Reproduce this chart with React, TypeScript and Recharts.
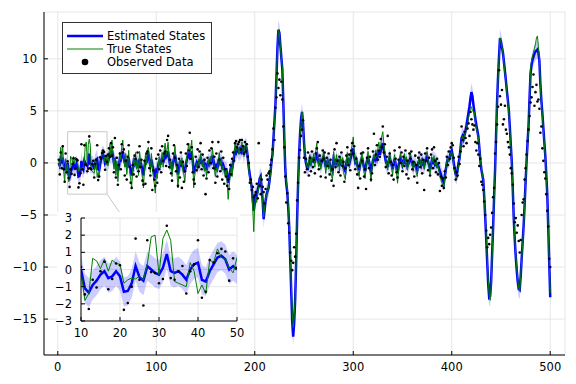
import React from 'react';
import {
  ComposedChart,
  Line,
  Area,
  Scatter,
  XAxis,
  YAxis,
  CartesianGrid,
  ReferenceArea,
  ReferenceLine,
} from 'recharts';

// x = 1..500
const trueStates: number[] = [
  0.2, -0.6, 1.5, 0.3, 1.7, -0.8, -1.9, 0.4, -1.0, -0.15,
  -1.8, -1.4, 0.65, 0.5, 0.05, 0.6, -0.1, 0.55, 0.35, 0.3,
  -0.8, -0.6, -0.5, -0.55, -0.4, -0.6, 0.3, 1.9, 2.0, -0.3,
  1.8, 2.3, 1.7, -0.7, -0.8, -0.9, -1.0, 0.4, -0.1, -1.4,
  -0.9, -1.4, 0.55, 0.4, 1.2, 0.7, 0.6, 0.1, -0.2, 0.7,
  -0.3, 0.9, 1.8, 0.5, 2.2, 0.8, -0.6, 0.4, -1.2, 0.2,
  -1.8, -0.5, 1.0, 0.3, 1.6, 2.2, 0.6, -0.4, 0.9, -1.1,
  -0.2, 1.2, -0.9, -1.6, -2.4, -0.8, 0.5, -0.3, 1.0, -0.6,
  0.3, -1.2, 1.1, 0.2, -0.7, -1.5, -2.4, -0.5, 0.8, -0.2,
  1.3, 1.5, 0.4, -0.9, 0.9, -0.4, -1.3, -2.0, -2.9, -1.0,
  -1.5, -0.2, 0.6, -0.5, 0.3, 1.0, -0.4, 1.2, 1.9, 0.8,
  1.3, 2.0, 0.5, -0.6, 0.2, -1.3, 0.1, 0.8, 1.6, 0.3,
  -0.9, -2.4, -1.0, 0.3, -0.2, 0.5, -0.8, -1.1, -1.8, -0.4,
  0.7, 1.2, 1.9, 0.9, 1.4, 2.2, 0.3, -2.4, -1.2, -0.5,
  0.0, -0.6, 0.4, -0.3, 0.9, 0.4, -0.35, 0.2, -0.8, -0.2,
  -1.3, -0.4, 0.3, -0.3, 0.6, 0.1, 1.4, 0.5, -0.6, -1.3,
  -0.5, -0.9, 0.3, 1.0, -0.2, 0.4, -0.7, -0.3, -0.9, -1.3,
  -0.6, -2.0, -3.5, -2.2, -1.3, -0.4, -1.3, 0.2, 0.9, 1.9,
  1.2, 1.7, 1.4, 0.8, 1.5, 1.1, 2.0, 1.3, 0.6, 1.6,
  1.9, 1.5, 0.4, -0.7, -1.5, -2.0, -2.6, -4.5, -6.6, -4.0,
  -3.2, -3.8, -2.9, -2.4, -1.6, -1.3, -2.5, -3.8, -5.2, -4.2,
  -3.5, -3.0, -2.8, -2.4, -1.8, -1.0, 0.0, 0.6, 2.2, 3.8,
  5.4, 8.0, 10.8, 12.8, 12.4, 11.2, 10.0, 9.2, 6.0, 2.5,
  -0.4, -1.8, -2.5, -4.0, -5.8, -8.7, -11.5, -14.2, -15.8, -14.8,
  -13.0, -9.5, -5.5, -2.3, 0.5, 2.5, 3.8, 4.9, 3.8, 2.0,
  0.8, 0.2, -0.3, -0.5, 0.3, 0.8, -0.3, 0.6, 0.2, 0.9,
  -0.4, 1.2, 1.9, 0.5, -0.35, 0.4, -0.6, 0.3, 0.7, 1.1,
  0.2, -1.0, -0.3, 0.5, -0.6, 0.2, -0.9, -1.3, -1.6, 1.1,
  0.4, -0.5, 0.8, -0.3, 0.3, -0.8, 0.6, -0.2, 0.5, -0.9,
  -1.2, -1.6, 0.2, 1.0, 0.3, -0.4, 0.6, 1.3, 1.8, 2.5,
  0.9, 0.0, 0.6, -0.5, -0.8, -1.3, -0.2, 0.5, 0.9, -0.3,
  -0.9, -1.5, -0.4, 0.4, 1.1, 0.1, -0.7, -1.8, -0.6, 0.3,
  0.8, 0.4, 1.25, 0.6, 1.4, 2.0, 1.2, 1.8, 2.6, 3.0,
  1.9, 1.0, 0.3, -0.2, -0.7, 0.4, 1.0, 0.2, -0.5, -1.15,
  0.1, 0.8, -0.3, -1.0, -1.95, -0.6, 0.4, 0.9, 0.3, -0.4,
  0.2, 0.9, -0.2, 0.6, -0.7, -0.2, 0.4, 1.0, 0.3, -0.3,
  -0.8, 0.2, -0.4, -0.9, -1.3, 0.0, 0.6, 0.2, -0.5, 0.4,
  -0.2, -0.6, 0.3, 0.8, 1.1, 0.2, -0.4, -1.1, -0.3, 0.5,
  0.1, 0.7, -0.2, 0.3, -0.5, -0.2, -0.8, -1.2, -1.6, -1.9,
  -2.1, -2.3, -1.4, -0.6, 0.1, 0.5, 0.2, 0.6, 0.9, 1.1,
  0.6, -0.2, -0.8, -1.3, -1.6, -0.9, -0.2, 0.3, 1.4, 2.3,
  2.6, 2.1, 2.6, 3.0, 3.3, 3.8, 4.3, 4.8, 5.3, 5.4,
  5.0, 4.9, 4.9, 4.0, 3.3, 2.9, 2.5, 1.5, 0.4, -0.5,
  -1.0, -1.5, -3.2, -5.0, -7.1, -9.2, -11.2, -12.6, -13.2, -11.8,
  -9.0, -6.4, -3.5, -0.9, 2.5, 5.7, 8.0, 10.0, 12.0, 11.6,
  11.2, 10.6, 9.6, 8.6, 7.8, 6.8, 5.8, 4.8, 3.2, 1.6,
  0.0, -2.5, -5.2, -7.2, -8.8, -10.0, -11.2, -12.0, -12.3, -10.9,
  -9.3, -7.8, -6.2, -4.2, -2.0, 0.0, 1.8, 3.4, 6.2, 9.0,
  9.8, 10.3, 10.6, 11.0, 11.4, 12.0, 12.2, 11.2, 10.0, 7.4,
  5.8, 4.6, 3.2, 1.8, 0.6, -1.2, -3.0, -6.2, -9.5, -12.5,
];

const estimatedStates: number[] = [
  0.0, -0.3, 0.4, 0.2, 0.5, -0.1, -0.7, -0.3, -0.4, 0.0,
  -1.1, -1.35, -0.9, -0.65, -0.3, -0.1, -0.5, -0.4, -0.1, -0.4,
  -1.3, -1.25, -0.8, 0.2, -0.45, -0.65, 0.2, 0.0, -0.2, -0.3,
  0.1, 0.9, -0.1, -0.2, -0.1, -0.3, -0.6, 0.0, 0.3, 0.4,
  -0.6, -0.7, -0.1, 0.3, 0.7, 0.8, 0.6, 0.0, 0.2, 0.0,
  0.1, 0.5, 1.0, 0.6, 1.2, 0.7, 0.0, 0.2, -0.5, -0.1,
  -0.8, -0.4, 0.4, 0.3, 0.8, 1.1, 0.5, 0.0, 0.4, -0.4,
  -0.1, 0.5, -0.3, -0.8, -1.2, -0.6, 0.1, -0.1, 0.4, -0.2,
  0.1, -0.5, 0.4, 0.1, -0.3, -0.8, -1.2, -0.4, 0.3, 0.0,
  0.6, 0.8, 0.3, -0.3, 0.3, -0.2, -0.6, -1.0, -1.4, -0.7,
  -0.8, -0.2, 0.2, -0.2, 0.2, 0.5, 0.0, 0.6, 1.0, 0.6,
  0.8, 1.1, 0.4, -0.2, 0.1, -0.6, 0.0, 0.4, 0.8, 0.2,
  -0.4, -1.1, -0.6, 0.1, -0.1, 0.2, -0.4, -0.6, -0.9, -0.2,
  0.3, 0.6, 1.0, 0.6, 0.8, 1.1, 0.2, -1.0, -0.6, -0.3,
  0.0, -0.3, 0.2, -0.1, 0.4, 0.2, -0.1, 0.1, -0.4, -0.2,
  -0.7, -0.3, 0.1, -0.1, 0.3, 0.1, 0.7, 0.3, -0.3, -0.7,
  -0.3, -0.5, 0.1, 0.5, 0.0, 0.2, -0.4, -0.2, -0.5, -0.8,
  -0.5, -1.2, -1.9, -1.4, -0.8, -0.4, -0.6, 0.1, 0.6, 1.2,
  1.0, 1.4, 1.3, 0.9, 1.3, 1.1, 1.7, 1.3, 0.8, 1.4,
  1.6, 1.3, 0.4, -0.5, -1.2, -1.8, -2.4, -3.6, -4.6, -3.8,
  -3.0, -3.1, -2.6, -2.2, -1.5, -1.3, -2.4, -3.6, -5.4, -4.5,
  -3.6, -3.0, -2.7, -2.4, -1.7, -0.9, 0.1, 0.8, 2.4, 4.0,
  5.6, 8.2, 11.0, 12.8, 12.5, 11.3, 10.1, 9.0, 5.8, 2.3,
  -0.6, -2.0, -2.8, -4.3, -6.2, -9.2, -12.3, -15.2, -16.7, -15.4,
  -13.2, -9.6, -5.4, -2.0, 0.8, 2.8, 4.2, 4.9, 3.8, 2.0,
  0.6, 0.0, -0.4, -0.5, 0.0, 0.3, 0.0, 0.3, 0.2, 0.5,
  0.0, 0.6, 1.0, 0.4, 0.0, 0.2, -0.2, 0.1, 0.4, 0.6,
  0.2, -0.4, -0.1, 0.2, -0.2, 0.0, -0.4, -0.6, -0.8, 0.4,
  0.2, -0.2, 0.4, -0.1, 0.1, -0.3, 0.2, 0.0, 0.2, -0.4,
  -0.6, -0.8, 0.0, 0.5, 0.2, -0.1, 0.3, 0.7, 1.0, 1.4,
  0.6, 0.1, 0.3, -0.2, -0.4, -0.7, -0.1, 0.2, 0.5, -0.1,
  -0.4, -0.8, -0.2, 0.2, 0.6, 0.1, -0.3, -0.9, -0.3, 0.2,
  0.5, 0.3, 0.7, 0.4, 0.8, 1.2, 0.8, 1.2, 1.6, 1.9,
  1.3, 0.7, 0.2, -0.1, -0.4, 0.2, 0.5, 0.1, -0.2, -0.6,
  0.0, 0.4, -0.1, -0.5, -1.0, -0.3, 0.2, 0.5, 0.2, -0.2,
  0.1, 0.5, -0.1, 0.3, -0.3, -0.1, 0.2, 0.5, 0.2, -0.1,
  -0.4, 0.1, -0.2, -0.5, -0.7, 0.0, 0.3, 0.1, -0.2, 0.2,
  -0.1, -0.3, 0.2, 0.4, 0.6, 0.1, -0.2, -0.6, -0.2, 0.3,
  0.1, 0.4, -0.1, 0.1, -0.3, -0.2, -0.5, -0.8, -1.1, -1.4,
  -1.7, -1.9, -1.3, -0.6, 0.0, 0.4, 0.3, 0.6, 1.0, 1.2,
  0.7, 0.0, -0.6, -1.1, -1.2, -0.6, 0.0, 0.5, 1.5, 2.4,
  2.6, 2.3, 2.7, 3.1, 3.6, 4.2, 4.8, 5.4, 6.2, 6.8,
  6.4, 5.6, 4.9, 4.2, 3.6, 3.1, 2.6, 1.5, 0.3, -0.6,
  -1.1, -1.6, -3.3, -5.2, -7.3, -9.5, -11.6, -12.9, -12.8, -11.4,
  -8.8, -6.2, -3.3, -0.7, 2.6, 5.8, 8.2, 10.2, 12.0, 11.6,
  11.1, 10.6, 9.7, 8.8, 7.9, 6.9, 6.0, 5.0, 3.4, 1.7,
  0.0, -2.6, -5.4, -7.4, -9.0, -10.3, -11.4, -12.1, -12.2, -10.9,
  -9.2, -7.6, -6.0, -4.0, -1.8, 0.2, 2.0, 3.6, 6.2, 8.6,
  9.4, 9.9, 10.2, 10.5, 10.7, 10.8, 10.9, 10.6, 9.8, 7.6,
  6.0, 4.8, 3.4, 2.0, 0.7, -1.1, -3.0, -6.2, -9.6, -12.9,
];

const observedData: number[] = [
  0.3, -1.1, 1.0, -0.5, 1.6, -0.6, -1.8, 0.9, -0.9, 0.15,
  -1.45, -2.3, -0.6, -1.05, -0.1, 0.45, -1.15, -0.55, 0.35, 0.25,
  -2.35, -1.95, -1.0, 1.8, -0.6, -2.1, 1.7, -0.15, -0.2, -0.8,
  -0.55, 2.55, -0.5, -0.6, -0.1, 0.2, -1.4, -0.1, 0.3, 1.7,
  -1.65, -1.3, 0.55, 0.4, 0.95, 1.2, 1.05, -0.65, 0.65, 0.1,
  0.8, 1.4, 0.6, 1.9, 0.7, 1.5, -0.9, 2.4, -1.4, 0.5,
  -2.1, -0.2, 0.9, -0.6, 1.8, 1.0, 1.3, -1.2, 0.2, -1.6,
  0.6, 1.7, -0.4, -1.9, -2.4, -0.2, -1.1, 0.7, 0.4, -1.3,
  1.0, -0.8, 1.6, -0.4, 0.3, -1.7, -2.1, 0.2, -2.0, 0.9,
  1.1, 2.0, -0.5, -1.2, 1.4, -2.6, -0.7, -1.6, -2.2, 0.4,
  -1.9, 0.8, -0.6, 1.2, -0.9, 1.6, 0.2, 0.9, 1.1, -0.3,
  2.2, 2.6, -0.4, 0.3, -1.0, -1.7, 0.9, 1.7, 0.5, -0.8,
  -0.2, -2.2, 0.4, -1.4, 1.0, -2.4, 0.1, -1.8, -0.8, 0.9,
  -0.3, 1.8, 1.2, 2.9, 0.4, 1.5, -0.9, -1.6, -2.0, 0.6,
  -0.7, 1.3, -0.4, 1.1, 1.9, -0.6, 0.8, -1.2, 0.3, -3.0,
  -1.5, 0.5, -0.9, 1.2, 0.0, 1.4, 2.0, -0.5, 0.6, -1.9,
  0.9, -1.3, 2.0, 0.3, -0.8, 1.1, -1.6, 0.5, -2.0, -0.6,
  -1.3, -2.2, -1.6, -2.5, -0.2, -1.1, 0.4, 1.0, 0.2, 1.9,
  2.1, 1.5, 1.8, 2.0, 2.2, 1.3, 2.2, 1.6, 0.9, 2.0,
  1.1, 1.8, 0.6, 0.0, -1.9, -1.6, -2.6, -2.3, -3.3, -3.1,
  -2.8, -2.0, -3.4, 1.9, -2.2, -3.0, -1.6, -2.3, -2.8, -3.9,
  -2.5, -1.2, -1.6, -1.0, -0.8, -0.2, 0.3, 1.3, 3.3, 2.2,
  5.3, 6.3, 8.6, 7.2, 8.0, 6.5, 7.8, 6.1, 3.5, 1.5,
  -1.3, -3.8, -2.9, -5.8, -6.7, -8.6, -9.4, -10.3, -9.6, -8.1,
  -9.0, -6.8, -3.6, -1.9, 0.5, 1.25, 2.6, 3.2, 4.1, 0.5,
  -0.9, 0.4, -0.6, 1.0, -1.2, 0.5, -0.8, 1.1, -0.4, 0.3,
  -1.0, 0.9, 1.4, 2.0, -0.6, 0.7, -1.3, 0.2, 1.2, 0.4,
  1.0, -1.4, 0.5, -0.3, 0.9, -1.1, 0.3, -1.7, -0.6, -2.2,
  1.3, -0.4, 1.9, 0.2, -0.9, 0.6, -1.2, 1.0, -0.3, 0.1,
  -1.8, -0.5, 0.7, 1.5, -0.2, 0.8, -0.7, 1.2, 1.9, 0.9,
  1.6, -0.6, 0.4, -1.1, -2.4, -0.3, -1.5, 0.9, 0.2, 1.0,
  -1.3, -0.6, -2.5, 0.5, 1.4, -0.5, 0.6, -1.6, -1.0, 1.1,
  2.8, -0.2, 0.8, 1.7, 0.3, 1.2, 0.6, 2.3, 1.5, 3.5,
  1.0, 1.8, -0.4, 0.6, 2.6, -1.0, 0.9, 0.1, -1.2, -0.2,
  -1.6, 1.2, 0.4, -0.9, -1.4, 0.3, 1.5, 0.0, 1.0, -0.8,
  0.6, -0.3, 1.2, -1.1, 0.2, -1.5, 0.9, 0.4, 1.1, -0.6,
  0.1, -1.3, 0.7, -0.2, -1.9, 0.5, 1.0, -0.4, 0.8, -1.0,
  0.3, -2.6, 0.9, 0.2, 1.4, -0.7, 0.5, -1.2, 0.8, 1.3,
  -0.5, 1.5, 0.2, -0.9, 0.4, -1.1, 0.0, -2.7, -1.3, -2.2,
  -1.5, -2.4, -0.8, -1.4, 0.6, -0.2, 1.1, 0.4, 1.5, 1.9,
  1.7, 0.5, -0.5, -1.6, -0.9, -1.2, 0.6, -0.1, 1.1, 3.5,
  2.2, 1.6, 3.0, 2.4, 1.9, 3.3, 3.8, 2.6, 4.9, 4.2,
  3.7, 3.2, 3.6, 2.0, 1.2, 1.9, 0.8, -0.3, 0.4, -1.8,
  -2.1, -2.6, -3.7, -5.0, -6.5, -8.1, -7.2, -7.8, -6.9, -6.2,
  -4.8, -3.3, -2.4, 0.9, 2.0, 3.7, 5.4, 8.9, 6.4, 5.6,
  7.0, 3.7, 4.2, 5.5, 3.2, 2.8, 2.0, 1.5, 0.8, -0.5,
  -1.0, -2.1, -3.9, -5.7, -5.3, -6.7, -6.0, -7.5, -8.6, -7.4,
  -5.0, -3.8, -3.5, -1.6, -0.5, 0.8, 2.1, 3.2, 4.5, 5.8,
  6.3, 7.3, 8.5, 5.5, 6.8, 7.5, 5.9, 6.1, 5.2, 2.9,
  3.5, 1.4, 0.2, -0.9, -1.5, -3.0, -4.6, -6.1, -9.2, -10.0,
];

// half-width of the shaded uncertainty band around the estimate
const bandHalfWidth = 0.85;

const mainXTicks = [0, 100, 200, 300, 400, 500];
const mainYTicks = [-15, -10, -5, 0, 5, 10];
const insetXTicks = [10, 20, 30, 40, 50];
const insetYTicks = [-3, -2, -1, 0, 1, 2, 3];
const lensRange = { x1: 10, x2: 50, y1: -3, y2: 3 };

const legendLabels = ['Estimated States', 'True States', 'Observed Data'];

const BLUE = '#0000ff';
const GREEN = '#008000';
const FONT = "'DejaVu Sans', sans-serif";
const GRID = '#e6e6e6';

const data = trueStates.map((t, i) => ({
  x: i + 1,
  truth: t,
  est: estimatedStates[i],
  obs: observedData[i],
  band: [estimatedStates[i] - bandHalfWidth, estimatedStates[i] + bandHalfWidth],
}));

const insetData = data.filter((d) => d.x >= lensRange.x1 && d.x <= lensRange.x2);

const fmt = (v: number) => String(v).replace('-', '\u2212');

const Dot = (props: any) => {
  const { cx, cy } = props;
  if (cx == null || cy == null) return null;
  return <circle cx={cx} cy={cy} r={1.3} fill="#000" />;
};

const tickStyle = { fontSize: 11.5, fill: '#000', fontFamily: FONT };

const LegendBox = () => (
  <div
    style={{
      position: 'absolute',
      left: 62,
      top: 22,
      width: 150,
      height: 52,
      border: '1px solid #333',
      background: '#fff',
      boxSizing: 'border-box',
    }}
  >
    <svg width={150} height={52} style={{ position: 'absolute', left: -1, top: -1 }}>
      <line x1={5} x2={41} y1={14} y2={14} stroke={BLUE} strokeWidth={2.5} />
      <line x1={5} x2={41} y1={27} y2={27} stroke={GREEN} strokeWidth={1} />
      <circle cx={23} cy={40} r={3.3} fill="#000" />
      {legendLabels.map((l, i) => (
        <text key={l} x={45} y={14 + i * 13} dy="0.35em" fontSize={11.5} fontFamily={FONT} fill="#000">
          {l}
        </text>
      ))}
    </svg>
  </div>
);

export default function App() {
  return (
    <div style={{ position: 'absolute', left: 0, top: 0, width: 576, height: 384, background: '#fff' }}>
      <div style={{ position: 'absolute', left: 0, top: 0 }}>
        <ComposedChart
          width={576}
          height={384}
          data={data}
          margin={{ top: 12, right: 11, left: 0, bottom: 0 }}
          style={{ fontFamily: FONT }}
        >
          <CartesianGrid stroke={GRID} strokeWidth={1} />
          <XAxis
            type="number"
            dataKey="x"
            domain={[-14, 515]}
            ticks={mainXTicks}
            allowDataOverflow
            height={29}
            tickSize={-4}
            tickMargin={12}
            axisLine={{ stroke: '#000' }}
            tickLine={{ stroke: '#000' }}
            tick={tickStyle}
          />
          <YAxis
            type="number"
            domain={[-18.45, 14.5]}
            ticks={mainYTicks}
            allowDataOverflow
            width={44}
            tickSize={-4}
            tickMargin={11}
            tickFormatter={fmt}
            axisLine={{ stroke: '#000' }}
            tickLine={{ stroke: '#000' }}
            tick={tickStyle}
          />
          <Area
            dataKey="band"
            stroke="none"
            fill={BLUE}
            fillOpacity={0.2}
            isAnimationActive={false}
            activeDot={false}
          />
          <Line dataKey="est" stroke={BLUE} strokeWidth={2.5} dot={false} isAnimationActive={false} />
          <Line dataKey="truth" stroke={GREEN} strokeWidth={1} dot={false} isAnimationActive={false} />
          <Scatter dataKey="obs" shape={<Dot />} isAnimationActive={false} />
          <ReferenceArea
            x1={lensRange.x1}
            x2={lensRange.x2}
            y1={lensRange.y1}
            y2={lensRange.y2}
            fill="none"
            stroke="#c8c8c8"
            strokeWidth={1}
            ifOverflow="visible"
          />
          <ReferenceLine
            segment={[
              { x: lensRange.x2, y: lensRange.y1 },
              { x: 66.8, y: -5.3 },
            ]}
            stroke="#c8c8c8"
            strokeWidth={1}
            ifOverflow="visible"
          />
        </ComposedChart>
      </div>
      <div style={{ position: 'absolute', left: 57, top: 212, width: 183, height: 111, background: '#fff' }} />
      <div style={{ position: 'absolute', left: 50, top: 208 }}>
        <ComposedChart
          width={210}
          height={140}
          data={insetData}
          margin={{ top: 10, right: 23, left: 0, bottom: 0 }}
          style={{ fontFamily: FONT }}
        >
          <CartesianGrid stroke={GRID} strokeWidth={1} fill="#fff" />
          <XAxis
            type="number"
            dataKey="x"
            domain={[lensRange.x1, lensRange.x2]}
            ticks={insetXTicks}
            allowDataOverflow
            height={27}
            tickSize={-4}
            tickMargin={12}
            axisLine={{ stroke: '#000' }}
            tickLine={{ stroke: '#000' }}
            tick={tickStyle}
            interval={0}
          />
          <YAxis
            type="number"
            domain={[lensRange.y1, lensRange.y2]}
            ticks={insetYTicks}
            allowDataOverflow
            width={31}
            tickSize={-4}
            tickMargin={13}
            tickFormatter={fmt}
            axisLine={{ stroke: '#000' }}
            tickLine={{ stroke: '#000' }}
            tick={tickStyle}
            interval={0}
          />
          <Area
            dataKey="band"
            stroke="none"
            fill={BLUE}
            fillOpacity={0.2}
            isAnimationActive={false}
            activeDot={false}
          />
          <Line dataKey="est" stroke={BLUE} strokeWidth={2.5} dot={false} isAnimationActive={false} />
          <Line dataKey="truth" stroke={GREEN} strokeWidth={1} dot={false} isAnimationActive={false} />
          <Scatter dataKey="obs" shape={<Dot />} isAnimationActive={false} />
        </ComposedChart>
      </div>
      <LegendBox />
    </div>
  );
}
